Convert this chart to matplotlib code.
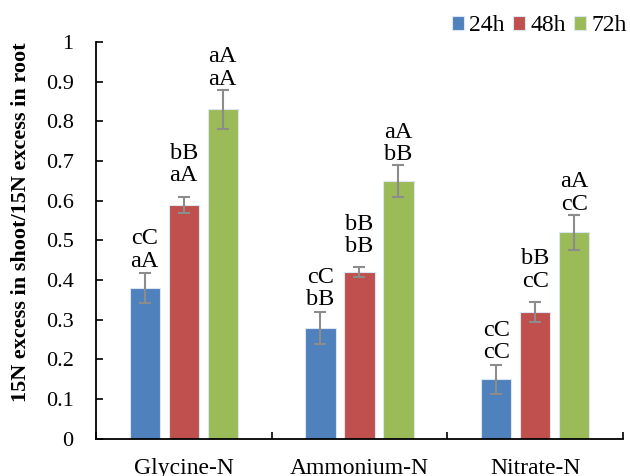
import matplotlib.pyplot as plt
import numpy as np

plt.rcParams['font.family'] = ['Liberation Serif', 'DejaVu Serif']

categories = ['Glycine-N', 'Ammonium-N', 'Nitrate-N']
series = ['24h', '48h', '72h']
values = {
    '24h': [0.38, 0.28, 0.15],
    '48h': [0.59, 0.42, 0.32],
    '72h': [0.83, 0.65, 0.52],
}
errors = {
    '24h': [0.037, 0.040, 0.037],
    '48h': [0.020, 0.012, 0.025],
    '72h': [0.050, 0.040, 0.045],
}
letters = {
    '24h': ['cC\naA', 'cC\nbB', 'cC\ncC'],
    '48h': ['bB\naA', 'bB\nbB', 'bB\ncC'],
    '72h': ['aA\naA', 'aA\nbB', 'aA\ncC'],
}
colors = {'24h': '#4F81BD', '48h': '#C0504D', '72h': '#9BBB59'}
label_gap = {'24h': 0.004, '48h': 0.026, '72h': 0.0}

fig = plt.figure(figsize=(6.3, 4.76), dpi=100)
ax = fig.add_axes([0.152, 0.078, 0.837, 0.834])

x = np.arange(len(categories))
step = 0.222
width = 0.172
for i, s in enumerate(series):
    pos = x + (i - 1) * step
    ax.bar(pos, values[s], width, color=colors[s], edgecolor='#DCE6F2',
           linewidth=0.8, label=s, zorder=2)
    ax.errorbar(pos, values[s], yerr=errors[s], fmt='none', ecolor='#8C8C8C',
                elinewidth=1.5, capsize=4.5, capthick=1.5, zorder=3)
    for p, v, e, t in zip(pos, values[s], errors[s], letters[s]):
        ax.text(p, v + e + label_gap[s], t, ha='center', va='bottom',
                fontsize=17.5, linespacing=1.08, zorder=4)

ax.set_xlim(-0.5, len(categories) - 0.5)
ax.set_ylim(0, 1)
ax.set_yticks(np.arange(0, 1.01, 0.1))
ax.set_yticklabels(['0'] + ['%.1f' % v for v in np.arange(0.1, 0.95, 0.1)] + ['1'])
ax.set_xticks(x)
ax.set_xticklabels(categories)
ax.set_xticks(np.arange(-0.5, len(categories)), minor=True)
ax.tick_params(axis='x', which='major', length=0, pad=14, labelsize=17)
ax.tick_params(axis='x', which='minor', direction='in', length=5, width=1.2)
ax.tick_params(axis='y', direction='in', length=5, width=1.2, pad=16, labelsize=16)
for side in ['top', 'right']:
    ax.spines[side].set_visible(False)
for side in ['left', 'bottom']:
    ax.spines[side].set_linewidth(1.3)

ax.set_ylabel('15N excess in shoot/15N excess in root', fontsize=16,
              fontweight='bold')
ax.yaxis.set_label_coords(-0.122, 0.547)

fig.legend(loc='upper right', bbox_to_anchor=(0.995, 0.968), ncol=3, frameon=False,
           fontsize=17, handlelength=0.52, handleheight=0.52, handletextpad=0.22,
           columnspacing=0.35, borderpad=0, borderaxespad=0)

fig.savefig('out.png', dpi=100)
